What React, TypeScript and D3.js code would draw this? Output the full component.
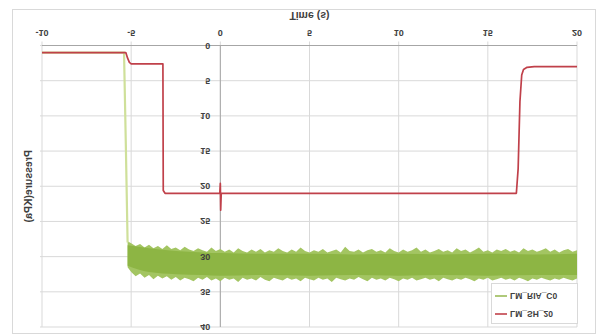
import React from "react";
import * as d3 from "d3";

// Chart is drawn upside-down (vertical mirror): time axis along the top, pressure grows downward.
const W = 598;
const H = 336;

const xTicks = [-10, -5, 0, 5, 10, 15, 20];
const yTicks = [0, 5, 10, 15, 20, 25, 30, 35, 40];

const seriesNames = ["LM_RIA_C0", "LM_SH_20"];
const seriesColors = ["#9bbb59", "#c0404a"];

// LM_SH_20 trace (time s, pressure kPa)
const shTime = [-10, -5.3, -5.2, -5.1, -5.0, -3.22, -3.2, -3.1, -0.03, 0, 0.02, 0.05, 16.6, 16.7, 16.8, 16.9, 17.0, 17.2, 17.6, 20];
const shValue = [1.0, 1.0, 1.8, 2.4, 2.6, 2.6, 20.6, 21.0, 21.0, 19.6, 23.4, 21.0, 21.0, 17.5, 8.0, 4.2, 3.4, 3.1, 3.0, 3.0];

// LM_RIA_C0 trace before the drop
const riaTime = [-10, -5.4, -5.3, -5.2];
const riaValue = [1.0, 1.0, 14, 28.0];

// LM_RIA_C0 noisy band after the drop: per-sample min / max envelope, one sample every 0.25 s
const bandTime = [-5.2, ...d3.range(-5, 20.001, 0.25)];
const bandMin = [
  27.8, 28.1, 28.5, 28.2, 28.7, 28.3, 28.8, 28.5, 28.9, 28.4, 28.9, 28.7, 29.1, 28.6, 29.0, 29.2, 28.8, 29.1, 29.3, 28.7, 29.2,
  28.9, 29.3, 29.0, 29.4, 28.8, 29.2, 29.4, 29.0, 29.3, 28.9, 29.4, 29.1, 29.3, 28.8, 29.2, 29.4, 29.0, 29.3, 28.7, 29.2,
  29.4, 29.1, 29.3, 28.9, 29.4, 29.2, 29.0, 29.4, 28.6, 29.2, 29.3, 29.0, 29.4, 29.1, 28.9, 29.3, 29.1, 29.4, 28.8, 29.2,
  29.4, 29.0, 29.3, 29.1, 28.7, 29.3, 29.0, 29.4, 29.2, 28.9, 29.3, 29.1, 29.4, 28.8, 29.2, 29.0, 29.4, 29.1, 28.7, 29.3,
  29.1, 29.4, 29.0, 29.2, 28.9, 29.3, 29.1, 29.4, 28.8, 29.2, 29.0, 29.3, 29.1, 28.8, 29.3, 29.0, 29.4, 29.1, 28.9, 29.3, 29.1,
];
const bandMax = [
  31.5, 32.2, 32.8, 32.4, 33.0, 32.6, 33.2, 32.7, 33.1, 32.8, 33.3, 32.9, 33.4, 33.0, 33.2, 33.5, 33.0, 33.3, 32.9, 33.4, 33.1,
  33.5, 33.0, 33.3, 33.1, 33.6, 33.0, 33.3, 33.1, 33.4, 32.9, 33.3, 33.5, 33.0, 33.2, 33.4, 33.0, 33.3, 33.1, 33.5, 33.0,
  33.2, 33.4, 33.0, 33.3, 33.1, 33.6, 33.0, 33.2, 33.4, 33.1, 33.3, 32.9, 33.2, 33.5, 33.0, 33.3, 33.1, 33.4, 33.0, 33.2,
  33.5, 33.1, 33.3, 33.0, 33.4, 33.2, 33.0, 33.3, 33.1, 33.5, 33.0, 33.2, 33.4, 33.1, 33.3, 33.0, 33.2, 33.5, 33.1, 33.3,
  33.0, 33.4, 33.2, 33.0, 33.3, 33.1, 33.4, 33.0, 33.2, 33.5, 33.1, 33.3, 33.0, 33.2, 33.4, 33.1, 33.3, 33.0, 33.2, 33.4, 33.1,
];

// Denser core of the band
const coreTime = [-5.2, -4.0, -2.5, -1.0, 0, 2.5, 5.0, 7.5, 10.0, 12.5, 15.0, 17.5, 20.0];
const coreMin = [28.4, 28.8, 29.2, 29.4, 29.5, 29.6, 29.6, 29.7, 29.6, 29.7, 29.6, 29.7, 29.6];
const coreMax = [31.3, 32.2, 32.5, 32.6, 32.7, 32.6, 32.7, 32.6, 32.7, 32.6, 32.7, 32.6, 32.6];

const FONT = "'Liberation Sans', Arial, sans-serif";

function FlipText({ x, y, children, anchor = "middle", size = 9, weight = "bold", rotate = 0, fill = "#404040" }: any) {
  return (
    <text
      transform={`translate(${x},${y}) scale(1,-1)${rotate ? ` rotate(${rotate})` : ""}`}
      textAnchor={anchor}
      dominantBaseline="central"
      fontFamily={FONT}
      fontSize={size}
      fontWeight={weight}
      fill={fill}
    >
      {children}
    </text>
  );
}

export default function App() {
  const x = d3.scaleLinear().domain([-10, 20]).range([42, 577]);
  const y = d3.scaleLinear().domain([0, 40]).range([45.5, 327]);

  const line = d3
    .line<[number, number]>()
    .x((d) => x(d[0]))
    .y((d) => y(d[1]));

  const shPath = line(shTime.map((t, i) => [t, shValue[i]]));
  const riaPath = line(riaTime.map((t, i) => [t, riaValue[i]]));

  const band = d3
    .area<number>()
    .x((i) => x(bandTime[i]))
    .y0((i) => y(bandMin[i]))
    .y1((i) => y(bandMax[i]));
  const core = d3
    .area<number>()
    .x((i) => x(coreTime[i]))
    .y0((i) => y(coreMin[i]))
    .y1((i) => y(coreMax[i]))
    .curve(d3.curveMonotoneX);

  const grid = "#d9d9d9";
  const [x0, x1] = x.range();
  const [y0, y1] = y.range();

  return (
    <svg width={W} height={H} style={{ position: "absolute", left: 0, top: 0, background: "#fff" }}>
      <rect x={12.5} y={9.5} width={583} height={324} fill="#fff" stroke="#d9d9d9" />

      {/* grid */}
      {yTicks.map((v) => (
        <line key={"gy" + v} x1={x0 - 2} x2={x1} y1={y(v)} y2={y(v)} stroke={grid} />
      ))}
      {xTicks.map((v) => (
        <line key={"gx" + v} x1={x(v)} x2={x(v)} y1={y0 - 4} y2={y1} stroke={grid} />
      ))}
      {/* axes */}
      <line x1={x0} x2={x1} y1={y0} y2={y0} stroke="#a6a6a6" />
      <line x1={x(0)} x2={x(0)} y1={y0} y2={y1} stroke="#a6a6a6" />

      {/* LM_RIA_C0 */}
      <path d={band(d3.range(bandTime.length)) || ""} fill="#a3c562" />
      <path d={core(d3.range(coreTime.length)) || ""} fill="#8db544" />
      <path d={riaPath || ""} fill="none" stroke="#cfe09a" strokeWidth={2.2} />

      {/* LM_SH_20 */}
      <path d={shPath || ""} fill="none" stroke={seriesColors[1]} strokeWidth={1.7} strokeLinejoin="round" />

      {/* tick labels */}
      {xTicks.map((v) => (
        <FlipText key={"tx" + v} x={x(v)} y={33}>
          {String(v)}
        </FlipText>
      ))}
      {yTicks.map((v) => (
        <FlipText key={"ty" + v} x={x(0) - 10} y={y(v)} anchor="end">
          {String(v)}
        </FlipText>
      ))}

      <FlipText x={(x0 + x1) / 2} y={16} size={10.5}>
        Time (s)
      </FlipText>
      <FlipText x={28} y={(y0 + y1) / 2} size={10.5} rotate={-90}>
        Pressure(KPa)
      </FlipText>

      {/* legend */}
      <rect x={491.5} y={283.5} width={86} height={40} fill="#fff" stroke="#d9d9d9" />
      {seriesNames.map((name, i) => {
        const ly = 296 + i * 18;
        return (
          <g key={name}>
            <line x1={495} x2={507} y1={ly} y2={ly} stroke={seriesColors[i]} strokeWidth={1.6} />
            <FlipText x={510} y={ly} anchor="start" size={8.5}>
              {name}
            </FlipText>
          </g>
        );
      })}
    </svg>
  );
}
